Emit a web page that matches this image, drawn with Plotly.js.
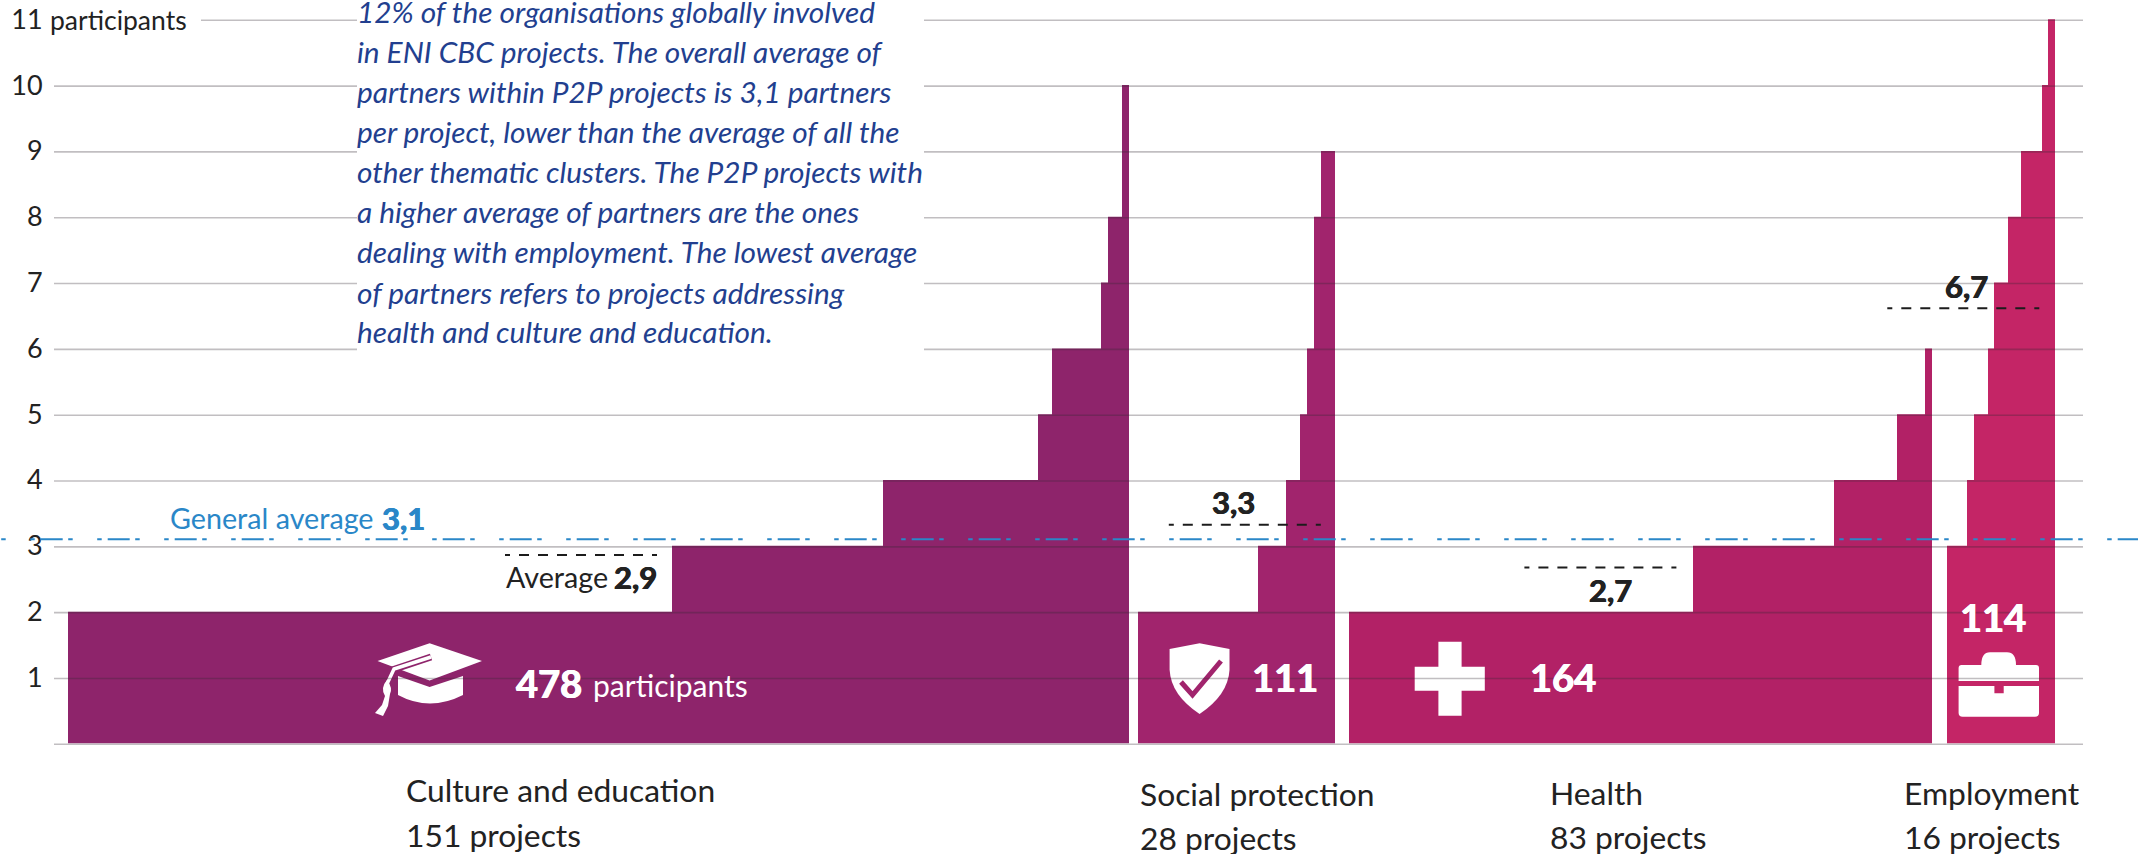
<!DOCTYPE html>
<html><head><meta charset="utf-8">
<script src="https://cdn.plot.ly/plotly-3.0.1.min.js"></script>
<style>html,body{margin:0;padding:0;background:#fff}#c{width:2138px;height:854px}</style>
</head><body><div id="c"></div>
<script>
// ---- data: number of projects at each participant level ----
const cultureLevels = [2,3,4,5,6,7,8,10];
const cultureCounts = [86,30,22,2,7,1,2,1];
const socialLevels  = [2,3,4,5,6,8,9];
const socialCounts  = [17,4,2,1,1,1,2];
const healthLevels  = [2,3,4,5,6];
const healthCounts  = [49,20,9,4,1];
const employLevels  = [3,4,5,6,7,8,9,10,11];
const employCounts  = [3,1,2,1,2,2,3,1,1];
const yTicks = [1,2,3,4,5,6,7,8,9,10,11];
const generalAverage = 3.1;
const clusterAverages = [2.86,3.32,2.67,6.61];
const clusterNames = ['Culture and education','Social protection','Health','Employment'];
const clusterProjects = ['151 projects','28 projects','83 projects','16 projects'];
const averageLabels = ['2,9','3,3','2,7','6,7'];
const participantLabels = ['478','111','164','114'];
const paragraphLines = [
 '12% of the organisations globally involved',
 'in ENI CBC projects. The overall average of',
 'partners within P2P projects is 3,1 partners',
 'per project, lower than the average of all the',
 'other thematic clusters. The P2P projects with',
 'a higher average of partners are the ones',
 'dealing with employment. The lowest average',
 'of partners refers to projects addressing',
 'health and culture and education.'];

// ---- layout constants ----
const W=2138,H=854,Y0=743.3,UNIT=65.82;
const yv=p=>(Y0-p)/UNIT;
const colors=['#8e246b','#a1246d','#b22166','#c42566'];
const starts=[68,1138,1348.7,1947.2], pxPerProject=[7.026,7.05,7.03,6.74];
const GRID_L=54,GRID_R=2083,FONT='Lato';
const dark='#222222',blue='#2a87c8',para='#223f8f';

function barTrace(levels,counts,i){
  let cum=starts[i];const x=[],w=[];
  counts.forEach(c=>{
    const a=Math.round(cum),b=Math.round(cum+c*pxPerProject[i]);
    x.push((a+b)/2);w.push(b-a);cum+=c*pxPerProject[i];
  });
  return {type:'bar',x:x,y:levels,width:w,marker:{color:colors[i],line:{width:0}},hoverinfo:'skip',showlegend:false};
}
const data=[barTrace(cultureLevels,cultureCounts,0),barTrace(socialLevels,socialCounts,1),
            barTrace(healthLevels,healthCounts,2),barTrace(employLevels,employCounts,3)];

function path(parts){
  return parts.map(s=>typeof s==='string'?s:(s[0]+','+yv(s[1]).toFixed(4))).join(' ');
}
const fillW={type:'path',xref:'x',yref:'y',layer:'above',fillcolor:'#fff',line:{width:0}};
const strokeS=(p,c,w)=>({type:'path',xref:'x',yref:'y',layer:'above',path:p,line:{color:c,width:w},fillcolor:'rgba(0,0,0,0)'});
const shapes=[];
// mortarboard
shapes.push({...fillW,path:path(['M',[429.6,643.3],'L',[482,661],'L',[429.6,680.5],'L',[377.5,661],'Z'])});
shapes.push({...fillW,path:path(['M',[398,676],'L',[429.6,687],'L',[463,676],'L',[463,695],'Q',[429.6,712],[398,695],'Z'])});
shapes.push(strokeS(path(['M',[431,657],'L',[392,670]]),colors[0],7));
shapes.push(strokeS(path(['M',[431,657],'L',[394,669],'L',[387,684]]),'#fff',3.5));
shapes.push({...fillW,path:path(['M',[387,680],'Q',[380,688],[385,696],'L',[382,705],'L',[375,713],'L',[383,716],'L',[388,706],'L',[390,694],'Q',[393,688],[387,680],'Z'])});
// shield
shapes.push({...fillW,path:path(['M',[1199.6,643.3],'L',[1229.5,649],'L',[1229.5,670],'Q',[1228,695],[1199.6,714],'Q',[1171,695],[1169.6,670],'L',[1169.6,649],'Z'])});
shapes.push(strokeS(path(['M',[1181,682],'L',[1192.5,695],'L',[1221,661]]),colors[1],5));
// cross
shapes.push({...fillW,path:path(['M',[1438.4,641.7],'L',[1461.6,641.7],'L',[1461.6,666.7],'L',[1484.8,666.7],'L',[1484.8,690.7],'L',[1461.6,690.7],'L',[1461.6,715.7],'L',[1438.4,715.7],'L',[1438.4,690.7],'L',[1414.7,690.7],'L',[1414.7,666.7],'L',[1438.4,666.7],'Z'])});
// briefcase
shapes.push({...fillW,path:path(['M',[1981.3,665],'Q',[1981.3,652.3],[1990,652.3],'L',[2007,652.3],'Q',[2016,652.3],[2016,665],'L',[2036,665],'Q',[2039,665],[2039,668],'L',[2039,681],'L',[1958.6,681],'L',[1958.6,668],'Q',[1958.6,665],[1961.6,665],'Z'])});
shapes.push({...fillW,path:path(['M',[1958.6,686],'L',[1994.4,686],'L',[1994.4,693.3],'L',[2003.7,693.3],'L',[2003.7,686],'L',[2039,686],'L',[2039,713],'Q',[2039,716.7],[2035,716.7],'L',[1962.6,716.7],'Q',[1958.6,716.7],[1958.6,713],'Z'])});

// gridlines, drawn over the bars and pictograms
const GRID_SHIFT=1/UNIT;
[0].concat(yTicks).forEach(v=>{
  shapes.push({type:'line',xref:'x',yref:'y',layer:'above',x0:v===11?201:GRID_L,x1:GRID_R,
    y0:v-GRID_SHIFT,y1:v-GRID_SHIFT,line:{color:'rgba(50,40,50,0.3)',width:1.6}});
});
// paragraph mask
shapes.push({type:'rect',xref:'x',yref:'y',layer:'above',x0:357,x1:924,y0:yv(0),y1:yv(360),fillcolor:'#fff',line:{width:0}});
// general average
shapes.push({type:'line',xref:'x',yref:'y',layer:'above',x0:1.2,x1:W,y0:generalAverage,y1:generalAverage,
  line:{color:blue,width:2,dash:'4.5px,24.5px,4.5px,6px,22px,5.5px'}});
// cluster averages
const avgX=[[505,658],[1168.8,1321.4],[1524.4,1678],[1887.3,2040.7]];
const dashList=['5px','9px'].concat(Array(7).fill('10px,9px')).concat(['5px','30px']).join(',');
clusterAverages.forEach((v,i)=>{
  shapes.push({type:'line',xref:'x',yref:'y',layer:'above',x0:avgX[i][0],x1:avgX[i][1],y0:v,y1:v,
    line:{color:'#1c1c1c',width:2,dash:dashList}});
});

// ---- text ----
const ann=(x,py,text,size,color,anchor)=>({xref:'x',yref:'y',x:x,y:yv(py),text:text,showarrow:false,
  xanchor:anchor||'left',yanchor:'middle',borderpad:0,borderwidth:0,align:anchor||'left',
  font:{family:FONT,size:size,color:color}});
const heavy=(x,py,text,size,color,anchor)=>{
  const a=ann(x,py,'<b>'+text+'</b>',size,color,anchor);
  a.font.shadow='0.6px 0 0 '+color+', -0.6px 0 0 '+color;
  return a;
};
const annotations=[];
const paraY=[11,51,91,131,171,211,251,292,331];
paragraphLines.forEach((t,i)=>annotations.push(ann(357,paraY[i],'<i>'+t+'</i>',29.8,para)));
annotations.push(ann(50,20,'participants',26.5,dark));
annotations.push(ann(170,518,'General average',28.7,blue));
annotations.push(heavy(382,518,'3,1',31,blue));
annotations.push(ann(506,577,'Average',28.7,dark));
const avgPos=[[614,577,'left'],[1233,502,'center'],[1610.7,590,'center'],[1966.7,286,'center']];
averageLabels.forEach((t,i)=>annotations.push(heavy(avgPos[i][0],avgPos[i][1],t,31,dark,avgPos[i][2])));
const partPos=[[516,683,'left'],[1285,677,'center'],[1563,677,'center'],[1993,617,'center']];
participantLabels.forEach((t,i)=>annotations.push(heavy(partPos[i][0],partPos[i][1],t,38,'#fff',partPos[i][2])));
annotations.push(ann(593,685,'participants',30,'#fff'));
const nameX=[406,1140,1550,1904],nameY=[790,794,793,793],projY=[835,838,837,837];
clusterNames.forEach((t,i)=>{
  annotations.push(ann(nameX[i],nameY[i],t,31.8,dark));
  annotations.push(ann(nameX[i],projY[i],clusterProjects[i],31.8,dark));
});

const layout={
  width:W,height:H,margin:{l:0,r:0,t:0,b:0},paper_bgcolor:'#fff',plot_bgcolor:'#fff',
  barmode:'overlay',showlegend:false,
  xaxis:{range:[0,W],visible:false,fixedrange:true},
  yaxis:{range:[-(H-Y0)/UNIT,Y0/UNIT],anchor:'free',position:GRID_L/W,tickmode:'array',tickvals:yTicks,
    ticktext:yTicks.map(String),showgrid:false,zeroline:false,showline:false,ticks:'outside',ticklen:6,
    tickcolor:'rgba(0,0,0,0)',tickfont:{family:FONT,size:27,color:dark},fixedrange:true},
  shapes:shapes,annotations:annotations,hovermode:false
};
Plotly.newPlot('c',data,layout,{displayModeBar:false,staticPlot:true});
</script></body></html>
